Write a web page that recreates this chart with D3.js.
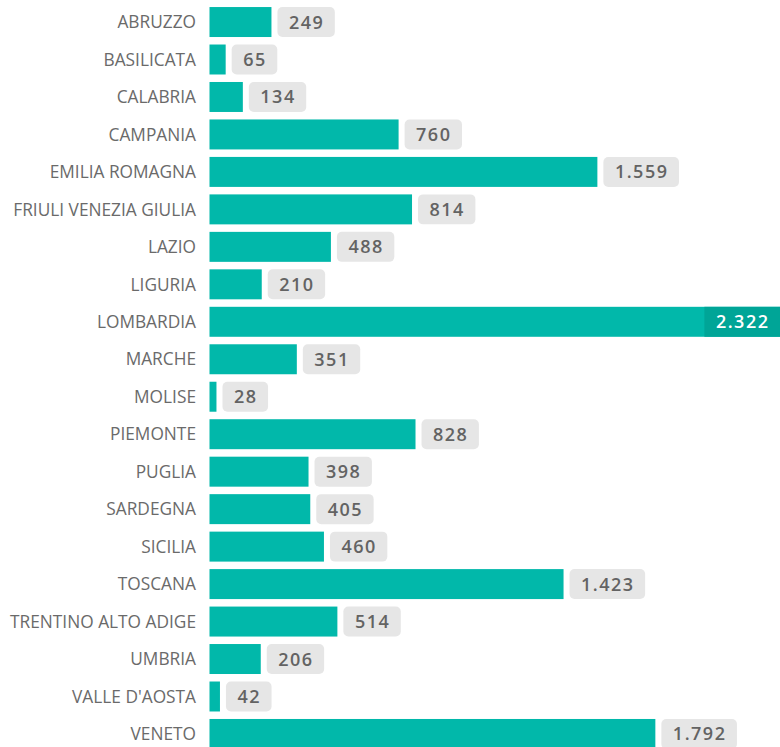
<!DOCTYPE html>
<html><head><meta charset="utf-8">
<script src="https://cdn.jsdelivr.net/npm/d3@7"></script>
<style>html,body{margin:0;padding:0;background:#fff;overflow:hidden}</style>
</head><body>
<svg id="c" width="780" height="747"></svg>
<script>
const regions = ["ABRUZZO","BASILICATA","CALABRIA","CAMPANIA","EMILIA ROMAGNA","FRIULI VENEZIA GIULIA","LAZIO","LIGURIA","LOMBARDIA","MARCHE","MOLISE","PIEMONTE","PUGLIA","SARDEGNA","SICILIA","TOSCANA","TRENTINO ALTO ADIGE","UMBRIA","VALLE D'AOSTA","VENETO"];
const values = [249,65,134,760,1559,814,488,210,2322,351,28,828,398,405,460,1423,514,206,42,1792];
const data = regions.map((r,i)=>({r, v: values[i]}));
const svg = d3.select("#c");
const x0 = 209.5;
const x = d3.scaleLinear().domain([0,2322]).range([x0, x0 + 0.2488*2322]);
const y = d3.scaleBand().domain(regions).range([3.3, 3.3 + 37.47*20]).paddingInner(0.2).paddingOuter(0.1);
const fmt = v => d3.format(",")(v).replace(/,/g,".");
const font = "'Open Sans', 'DejaVu Sans', sans-serif";

svg.append("g").selectAll("text").data(data).join("text")
  .attr("x", 196).attr("y", d=>y(d.r)+y.bandwidth()/2).attr("dy","0.36em")
  .attr("text-anchor","end").attr("font-family",font).attr("font-size",17.3)
  .attr("fill","#6a6a6a").text(d=>d.r);

svg.append("g").selectAll("rect").data(data).join("rect")
  .attr("x", x(0)).attr("y", d=>y(d.r)).attr("height", y.bandwidth())
  .attr("width", d=>x(d.v)-x(0)).attr("fill","#01b8aa");

const lg = svg.append("g");
data.forEach(d=>{
  const g = lg.append("g");
  const t = g.append("text").attr("font-family",font).attr("font-size",18).attr("font-weight",600)
    .attr("letter-spacing",1.5).attr("dy","0.36em").attr("y", y(d.r)+y.bandwidth()/2).text(fmt(d.v));
  const w = t.node().getComputedTextLength();
  const bw = w + 22, bh = y.bandwidth();
  const inside = x(d.v) + 6 + bw > 780;
  const bx = inside ? 780 - bw : x(d.v) + 6;
  g.insert("rect","text").attr("x",bx).attr("y",y(d.r)).attr("width",bw).attr("height",bh)
    .attr("rx",inside?0:5).attr("fill", inside ? "#00a597" : "#e6e6e6");
  t.attr("x", bx + bw/2 + 0.5).attr("text-anchor","middle").attr("fill", inside ? "#fff" : "#636363");
});
</script>
</body></html>
